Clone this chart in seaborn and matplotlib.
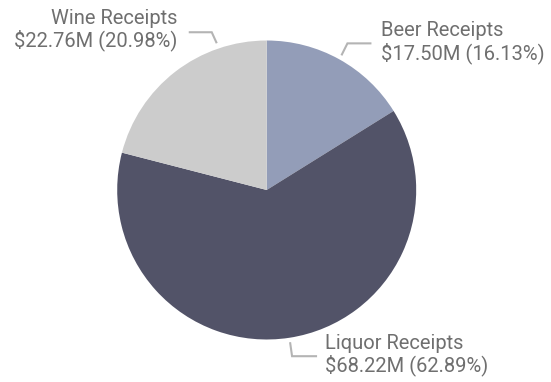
import numpy as np
import matplotlib
matplotlib.use("Agg")
import matplotlib.pyplot as plt
import seaborn as sns

# ---- data ----
categories = ["Beer Receipts", "Liquor Receipts", "Wine Receipts"]
values_musd = [17.50, 68.22, 22.76]
percents = [16.13, 62.89, 20.98]
colors = ["#939DB8", "#525368", "#CCCCCC"]

sns.set_theme(style="white")
plt.rcParams["font.family"] = ["Roboto", "DejaVu Sans"]

W, H = 551, 382
fig = plt.figure(figsize=(W / 100, H / 100), dpi=100)
ax = fig.add_axes([0, 0, 1, 1])

cx, cy, R = 266.7, 192.0, 149.5
wedges, _ = ax.pie(values_musd, colors=colors, startangle=90, counterclock=False,
                   center=(cx, cy), radius=R,
                   wedgeprops=dict(linewidth=0))
ax.set_xlim(0, W)
ax.set_ylim(0, H)
ax.set_aspect("equal", adjustable="box")
ax.axis("off")

text_color = "#6F6F6F"
line_color = "#B4B4B4"

# layout of leader lines: (anchor angle override or None, anchor radius factor,
#                          elbow dx, elbow dy, horizontal run, text gap, text dy)
layout = {
    "Beer Receipts": (None, 1.03, 6, 12, 24, 10, 1.0),
    "Liquor Receipts": (None, 1.03, 2, -14, 25, 8, 1.5),
    "Wine Receipts": (108.8, 1.037, -5, 11, -23, -11, 2.5),
}

for w, cat, v, p in zip(wedges, categories, values_musd, percents):
    ang_override, rf, edx, edy, run, gap, tdy = layout[cat]
    ang = ang_override if ang_override is not None else (w.theta1 + w.theta2) / 2
    a = np.deg2rad(ang)
    ax0 = cx + rf * R * np.cos(a)
    ay0 = cy + rf * R * np.sin(a)
    ex, ey = ax0 + edx, ay0 + edy
    hx = ex + run
    ax.plot([ax0, ex, hx], [ay0, ey, ey], color=line_color, lw=1.5,
            solid_joinstyle="miter", solid_capstyle="butt")
    ha = "left" if run > 0 else "right"
    ax.text(hx + gap, ey + tdy, f"{cat}\n${v:.2f}M ({p:.2f}%)",
            ha=ha, va="center", fontsize=14.5, color=text_color,
            linespacing=1.1)

fig.savefig("out.png", dpi=100, facecolor="white")
